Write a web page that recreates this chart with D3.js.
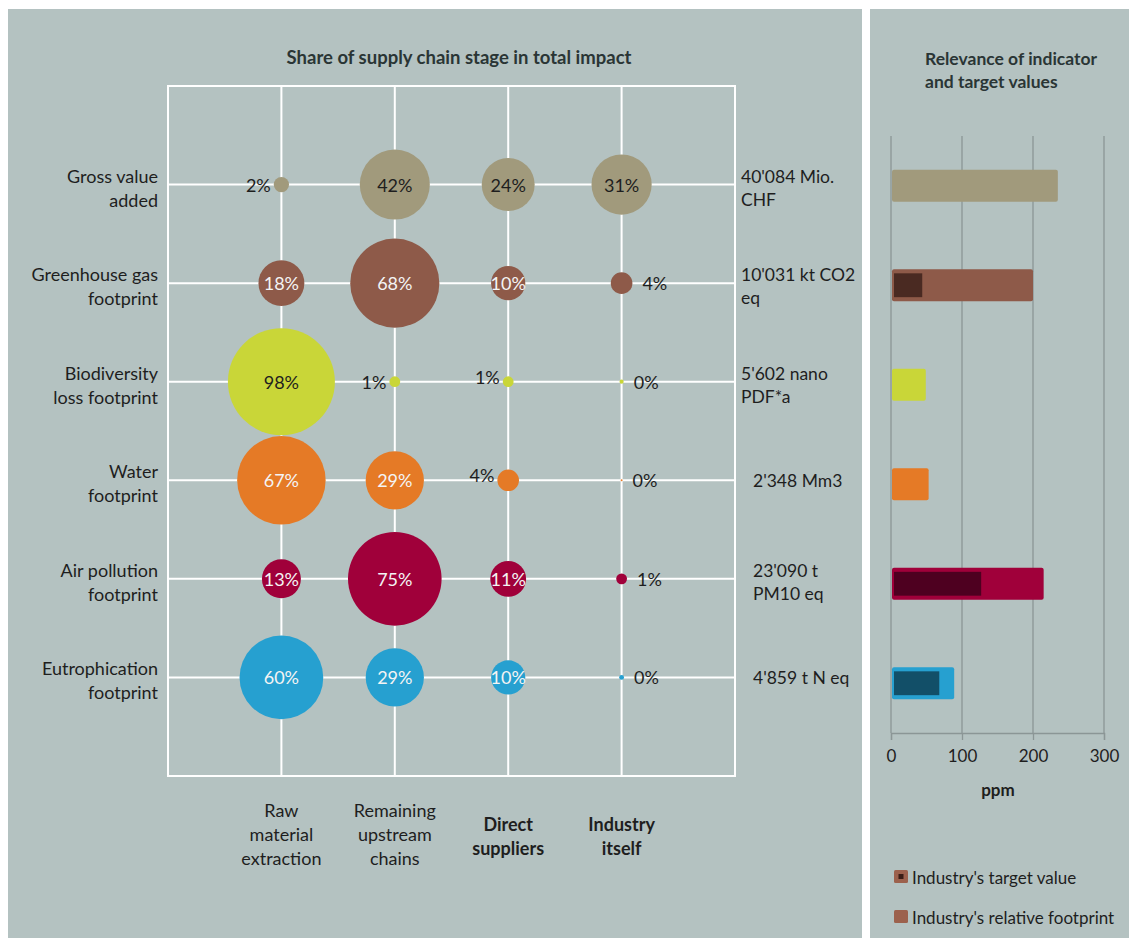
<!DOCTYPE html>
<head>
  <meta charset="utf-8">
  <script src="https://cdn.jsdelivr.net/npm/d3@7"></script>
  <style>
    body { margin: 0; background: #fff; }
    text { font-family: Lato, "Open Sans", sans-serif; fill: #1e1e1e; }
  </style>
</head>

<body>
  <svg width="1129" height="938"></svg>

  <script>

  // indicators (rows) and supply chain stages (columns)
  var indicators = [["Gross value", "added"], ["Greenhouse gas", "footprint"], ["Biodiversity", "loss footprint"],
                    ["Water", "footprint"], ["Air pollution", "footprint"], ["Eutrophication", "footprint"]];
  var stages = [["Raw", "material", "extraction"], ["Remaining", "upstream", "chains"], ["Direct", "suppliers"], ["Industry", "itself"]];
  var totals = [["40'084 Mio.", "CHF"], ["10'031 kt CO2", "eq"], ["5'602 nano", "PDF*a"],
                ["2'348 Mm3"], ["23'090 t", "PM10 eq"], ["4'859 t N eq"]];

  // share of each stage in total impact (%)
  var rawMaterial       = [2, 18, 98, 67, 13, 60];
  var remainingUpstream = [42, 68, 1, 29, 75, 29];
  var directSuppliers   = [24, 10, 1, 4, 11, 10];
  var industryItself    = [31, 4, 0.15, 0.03, 1, 0.2];

  // relevance in ppm
  var relativeFootprint = [235, 200, 49, 53, 215, 89];
  var targetValue       = [null, 44, null, null, 127, 68];
  var ppmTicks = [0, 100, 200, 300];

  var legendLabels = ["Industry's target value", "Industry's relative footprint"];

  var color = ["#a19a7c", "#8e5a49", "#c9d638", "#e57a26", "#a0003a", "#26a0d0"];
  var targetColor = [null, "#4a2a22", null, null, "#4e0020", "#124f68"];
  var labelColor = ["#1e1e1e", "#f4f4f4", "#1e1e1e", "#f4f4f4", "#f4f4f4", "#f4f4f4"];

  var svg = d3.select("svg");

  // panels
  svg.append("rect").attr("x", 8).attr("y", 9).attr("width", 854).attr("height", 929).attr("fill", "#b4c2c1");
  svg.append("rect").attr("x", 870).attr("y", 9).attr("width", 259).attr("height", 929).attr("fill", "#b4c2c1");

  // ---------- bubble chart ----------
  var x = d3.scaleLinear().domain([0, 5]).range([168, 735]);
  var y = d3.scaleLinear().domain([0, 7]).range([86, 776]);
  var r = d3.scaleSqrt().domain([0, 98]).range([0, 53.5]);

  svg.append("text")
    .attr("x", 459).attr("y", 57)
    .attr("text-anchor", "middle").attr("dominant-baseline", "central")
    .style("font-size", "18.5px").style("font-weight", "bold").style("fill", "#2a3535")
    .text("Share of supply chain stage in total impact");

  var grid = svg.append("g").attr("class", "grid");
  grid.selectAll("line.v").data(d3.range(6)).enter().append("line")
    .attr("x1", function(d) { return x(d); }).attr("x2", function(d) { return x(d); })
    .attr("y1", y(0)).attr("y2", y(7))
    .attr("stroke", "#fff").attr("stroke-width", 2);
  grid.selectAll("line.h").data(d3.range(8)).enter().append("line")
    .attr("y1", function(d) { return y(d); }).attr("y2", function(d) { return y(d); })
    .attr("x1", x(0) - 1).attr("x2", x(5) + 1)
    .attr("stroke", "#fff").attr("stroke-width", 2);

  // row labels
  var rowLab = svg.append("g").selectAll("text").data(indicators).enter().append("text")
    .attr("text-anchor", "end")
    .style("font-size", "18px")
    .attr("transform", function(d, i) { return "translate(158," + y(i + 1) + ")"; });
  rowLab.selectAll("tspan").data(function(d) { return d; }).enter().append("tspan")
    .attr("x", 0)
    .attr("y", function(d, j) { return j * 24 - 2; })
    .text(function(d) { return d; });

  // total values on the right
  var totLab = svg.append("g").selectAll("text").data(totals).enter().append("text")
    .style("font-size", "17.5px")
    .attr("transform", function(d, i) { return "translate(" + (i < 3 ? 741 : 753) + "," + y(i + 1) + ")"; });
  totLab.selectAll("tspan").data(function(d) { return d; }).enter().append("tspan")
    .attr("x", 0)
    .attr("y", function(d, j, nodes) { return nodes.length == 1 ? 7 : j * 23 - 2; })
    .text(function(d) { return d; });

  // column labels
  var colLab = svg.append("g").selectAll("text").data(stages).enter().append("text")
    .attr("text-anchor", "middle")
    .style("font-size", "18px")
    .style("font-weight", function(d, i) { return i >= 2 ? "bold" : "normal"; })
    .attr("transform", function(d, i) { return "translate(" + x(i + 1) + "," + (d.length == 3 ? 817 : 831) + ")"; });
  colLab.selectAll("tspan").data(function(d) { return d; }).enter().append("tspan")
    .attr("x", 0)
    .attr("y", function(d, j) { return j * 24; })
    .text(function(d) { return d; });

  // bubbles
  var series = [rawMaterial, remainingUpstream, directSuppliers, industryItself];
  var points = [];
  series.forEach(function(s, c) {
    s.forEach(function(v, i) { points.push({col: c, row: i, value: v}); });
  });

  svg.append("g").selectAll("circle").data(points).enter().append("circle")
    .attr("cx", function(d) { return x(d.col + 1); })
    .attr("cy", function(d) { return y(d.row + 1); })
    .attr("r", function(d) { return Math.max(r(d.value), 1); })
    .attr("fill", function(d) { return color[d.row]; });

  svg.append("g").selectAll("text").data(points).enter().append("text")
    .style("font-size", "18px")
    .attr("dominant-baseline", "central")
    .attr("x", function(d) {
      var rr = r(d.value), cx = x(d.col + 1);
      if (rr >= 12) return cx;
      if (d.col == 3) return cx + rr + 10;
      return cx - rr - 3;
    })
    .attr("y", function(d) {
      var rr = r(d.value);
      return y(d.row + 1) + (rr < 12 && d.col == 2 ? -5 : 0);
    })
    .attr("text-anchor", function(d) {
      var rr = r(d.value);
      if (rr >= 12) return "middle";
      return d.col == 3 ? "start" : "end";
    })
    .style("fill", function(d) { return r(d.value) >= 12 ? labelColor[d.row] : "#1e1e1e"; })
    .text(function(d) { return Math.round(d.value) + "%"; });

  // ---------- relevance bar chart ----------
  var bx = d3.scaleLinear().domain([0, 300]).range([891, 1104]);
  var by = d3.scaleBand().domain(d3.range(6)).range([136, 733]).paddingInner(0.68).paddingOuter(0.34);

  var rt = svg.append("text")
    .attr("dominant-baseline", "central")
    .style("font-size", "17.5px").style("font-weight", "bold").style("fill", "#2a3535");
  rt.append("tspan").attr("x", 925).attr("y", 58).text("Relevance of indicator");
  rt.append("tspan").attr("x", 925).attr("y", 81).text("and target values");

  svg.append("g").selectAll("line").data(ppmTicks).enter().append("line")
    .attr("x1", function(d) { return bx(d); }).attr("x2", function(d) { return bx(d); })
    .attr("y1", 136).attr("y2", 733)
    .attr("stroke", "#8b9696").attr("stroke-width", 1.3);

  var axis = svg.append("g")
    .attr("transform", "translate(0,733)")
    .call(d3.axisBottom(bx).tickValues(ppmTicks).tickSize(7).tickPadding(10));
  axis.select(".domain").attr("stroke", "#8b9696").attr("stroke-width", 1.3);
  axis.selectAll(".tick line").attr("stroke", "#8b9696").attr("stroke-width", 1.3);
  axis.selectAll(".tick text").style("font-size", "17px").style("font-family", "Lato, 'Open Sans', sans-serif").attr("fill", "#1e1e1e");

  svg.append("text")
    .attr("x", 998).attr("y", 789)
    .attr("text-anchor", "middle").attr("dominant-baseline", "central")
    .style("font-size", "17px").style("font-weight", "bold")
    .text("ppm");

  svg.append("g").selectAll("rect").data(relativeFootprint).enter().append("rect")
    .attr("x", bx(0) + 1)
    .attr("y", function(d, i) { return by(i); })
    .attr("width", function(d) { return bx(d) - bx(0) - 1; })
    .attr("height", by.bandwidth())
    .attr("rx", 2)
    .attr("fill", function(d, i) { return color[i]; });

  svg.append("g").selectAll("rect").data(targetValue.map(function(t, i) { return {t: t, i: i}; })
      .filter(function(d) { return d.t != null; })).enter().append("rect")
    .attr("x", bx(0) + 3)
    .attr("y", function(d) { return by(d.i) + 4; })
    .attr("width", function(d) { return bx(d.t) - bx(0) - 3; })
    .attr("height", by.bandwidth() - 8)
    .attr("fill", function(d) { return targetColor[d.i]; });

  // legend
  var legend = svg.append("g").selectAll("g").data(legendLabels).enter().append("g")
    .attr("transform", function(d, i) { return "translate(894," + (870 + i * 40) + ")"; });
  legend.append("rect")
    .attr("width", 14).attr("height", 13).attr("rx", 1.5)
    .attr("fill", "#9c614d");
  legend.filter(function(d, i) { return i == 0; }).append("rect")
    .attr("x", 4.5).attr("y", 4).attr("width", 5).attr("height", 5)
    .attr("fill", "#3a1d16");
  legend.append("text")
    .attr("x", 18).attr("y", 7)
    .attr("dominant-baseline", "central")
    .style("font-size", "17px")
    .text(function(d) { return d; });

  </script>
</body>
